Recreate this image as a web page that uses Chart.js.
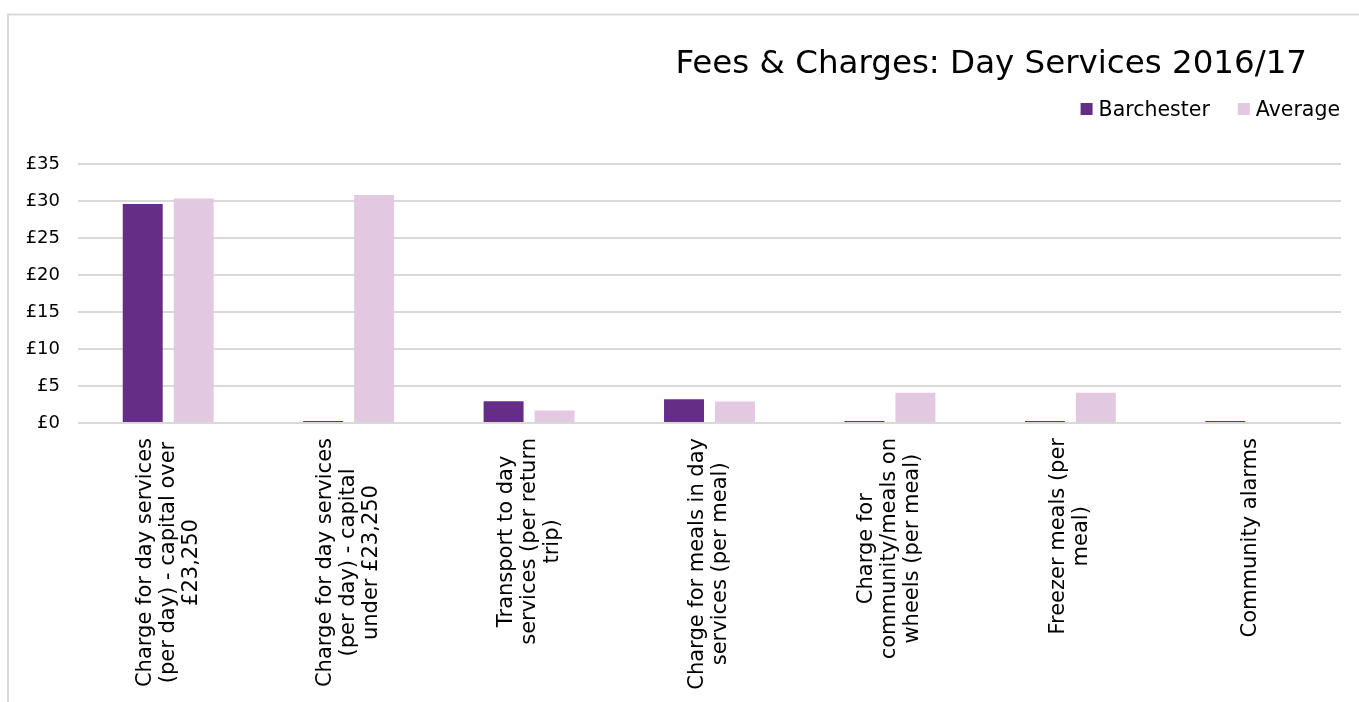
<!DOCTYPE html>
<html>
<head>
<meta charset="utf-8">
<script src="https://cdn.jsdelivr.net/npm/chart.js@4.4.1/dist/chart.umd.min.js"></script>
<style>
  html, body { margin: 0; padding: 0; background: #ffffff; }
  #c { display: block; }
</style>
</head>
<body>
<canvas id="c" width="1359" height="702"></canvas>
<script>
// ---- data ----
const chartTitle = "Fees & Charges: Day Services 2016/17";
const categories = [
  ["Charge for day services", "(per day) - capital over", "£23,250"],
  ["Charge for day services", "(per day) - capital", "under £23,250"],
  ["Transport to day", "services (per return", "trip)"],
  ["Charge for meals in day", "services (per meal)"],
  ["Charge for", "community/meals on", "wheels (per meal)"],
  ["Freezer meals (per", "meal)"],
  ["Community alarms"]
];
const seriesNames = ["Barchester", "Average"];
const barchester = [29.6, 0, 2.95, 3.2, 0, 0, 0];
const average = [30.35, 30.8, 1.7, 2.9, 4.1, 4.1, null];
const yTicks = [0, 5, 10, 15, 20, 25, 30, 35];

// ---- styles ----
const FONT = "'DejaVu Sans', Verdana, sans-serif";
const colors = ["#662D87", "#E3C8E2"];

const decorPlugin = {
  id: 'decor',
  beforeDraw(chart) {
    const ctx = chart.ctx;
    ctx.save();
    ctx.fillStyle = '#ffffff';
    ctx.fillRect(0, 0, chart.width, chart.height);
    ctx.strokeStyle = '#d9d9d9';
    ctx.lineWidth = 2;
    ctx.strokeRect(8, 14.5, chart.width + 20, chart.height + 20);
    ctx.restore();
  },
  afterDraw(chart) {
    const ctx = chart.ctx;
    const area = chart.chartArea;
    ctx.save();
    // title
    ctx.fillStyle = '#000000';
    ctx.font = `32.5px ${FONT}`;
    ctx.textAlign = 'right';
    ctx.textBaseline = 'alphabetic';
    ctx.fillText(chartTitle, 1307, 73);

    // legend (right aligned)
    ctx.font = `20.5px ${FONT}`;
    ctx.textAlign = 'left';
    let right = 1340;
    const ds = chart.data.datasets;
    for (let i = ds.length - 1; i >= 0; i--) {
      const w = ctx.measureText(ds[i].label).width;
      const tx = right - w;
      ctx.fillStyle = ds[i].backgroundColor;
      ctx.fillRect(tx - 18, 103, 12, 12);
      ctx.fillStyle = '#000000';
      ctx.fillText(ds[i].label, tx, 116);
      right = tx - 18 - 28;
    }

    // x category labels, rotated, lines centred
    const xs = chart.scales.x;
    ctx.font = `21px ${FONT}`;
    ctx.fillStyle = '#000000';
    ctx.textAlign = 'center';
    ctx.textBaseline = 'middle';
    const lh = 23;
    chart.data.labels.forEach((lines, i) => {
      const x = xs.getPixelForTick(i);
      const maxW = Math.max(...lines.map(l => ctx.measureText(l).width));
      ctx.save();
      ctx.translate(x, area.bottom + 15 + maxW / 2);
      ctx.rotate(-Math.PI / 2);
      lines.forEach((l, j) => {
        ctx.fillText(l, 0, (j - (lines.length - 1) / 2) * lh);
      });
      ctx.restore();
    });
    ctx.restore();
  }
};

new Chart(document.getElementById('c'), {
  type: 'bar',
  data: {
    labels: categories,
    datasets: [
      { label: seriesNames[0], data: barchester, backgroundColor: colors[0], minBarLength: 2 },
      { label: seriesNames[1], data: average, backgroundColor: colors[1] }
    ]
  },
  options: {
    responsive: false,
    devicePixelRatio: 1,
    animation: false,
    layout: { padding: { top: 164, right: 18, bottom: 0, left: 0 } },
    categoryPercentage: 0.565,
    barPercentage: 0.784,
    plugins: {
      legend: { display: false },
      title: { display: false },
      tooltip: { enabled: false }
    },
    scales: {
      x: {
        grid: { display: false, drawTicks: false },
        border: { display: false },
        ticks: { display: false },
        afterFit(s) { s.height = 702 - 423; }
      },
      y: {
        min: 0,
        max: 35,
        afterBuildTicks(s) { s.ticks = yTicks.map(v => ({ value: v })); },
        grid: { color: '#d9d9d9', lineWidth: 2, drawTicks: false },
        border: { display: false },
        ticks: {
          padding: 18,
          color: '#000000',
          font: { family: FONT, size: 18 },
          callback: v => '£' + v
        },
        afterFit(s) { s.width = 78; }
      }
    }
  },
  plugins: [decorPlugin]
});
</script>
</body>
</html>
